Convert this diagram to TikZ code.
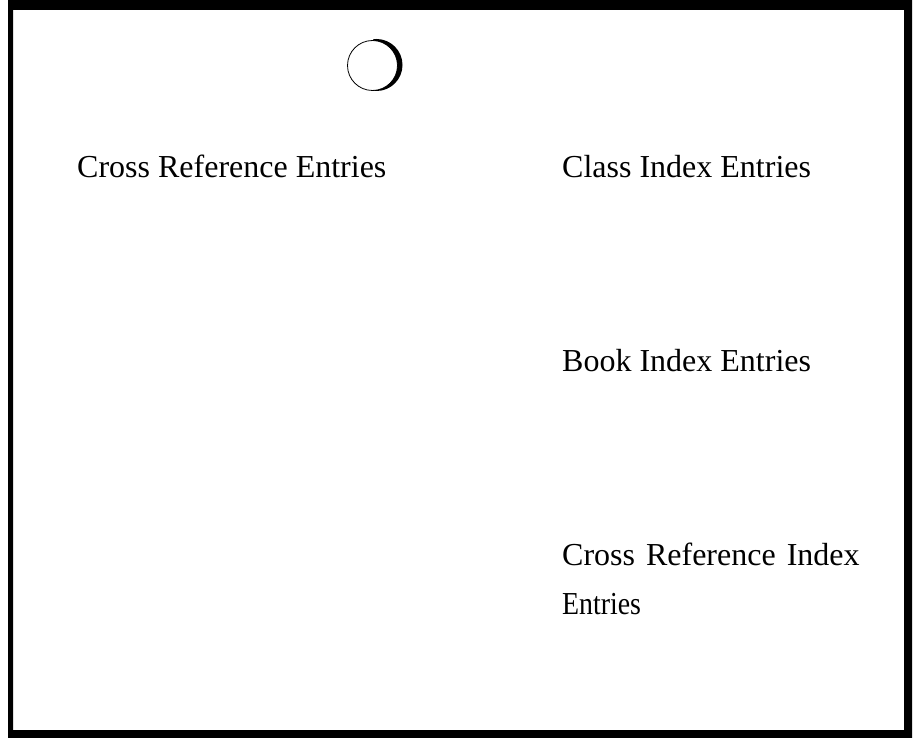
\documentclass[tikz,border=0pt]{standalone}
\usepackage{fontspec}
\setmainfont{Liberation Serif}
\begin{document}
\begin{tikzpicture}[x=1pt,y=-1pt,
  lbl/.style={anchor=base west,inner sep=0pt,font=\fontsize{32}{49}\selectfont}]
\useasboundingbox (0,0) rectangle (914,738);
\fill[white] (0,0) rectangle (914,738);
% frame
\fill[black,even odd rule] (8,0) rectangle (912,738) (13,10) rectangle (904,730);
% circle with shadow crescent
\draw[line width=0.8pt] (372.5,65.5) circle (25);
\begin{scope}
  \clip (373,30) rectangle (410,100);
  \fill[black,even odd rule] (376.5,65) circle (26) (372.5,65.5) circle (25);
\end{scope}
% labels
\node[lbl] (cre) at (77,178) {Cross Reference Entries};
\node[lbl] (cie) at (562,178) {Class Index Entries};
\node[lbl] (bie) at (562,372) {Book Index Entries};
\node[lbl,align=left] (crie) at (562,614) {Cross\hspace{3pt} Reference\hspace{3pt} Index\\\scalebox{0.87}[1]{Entries}};
\end{tikzpicture}
\end{document}
